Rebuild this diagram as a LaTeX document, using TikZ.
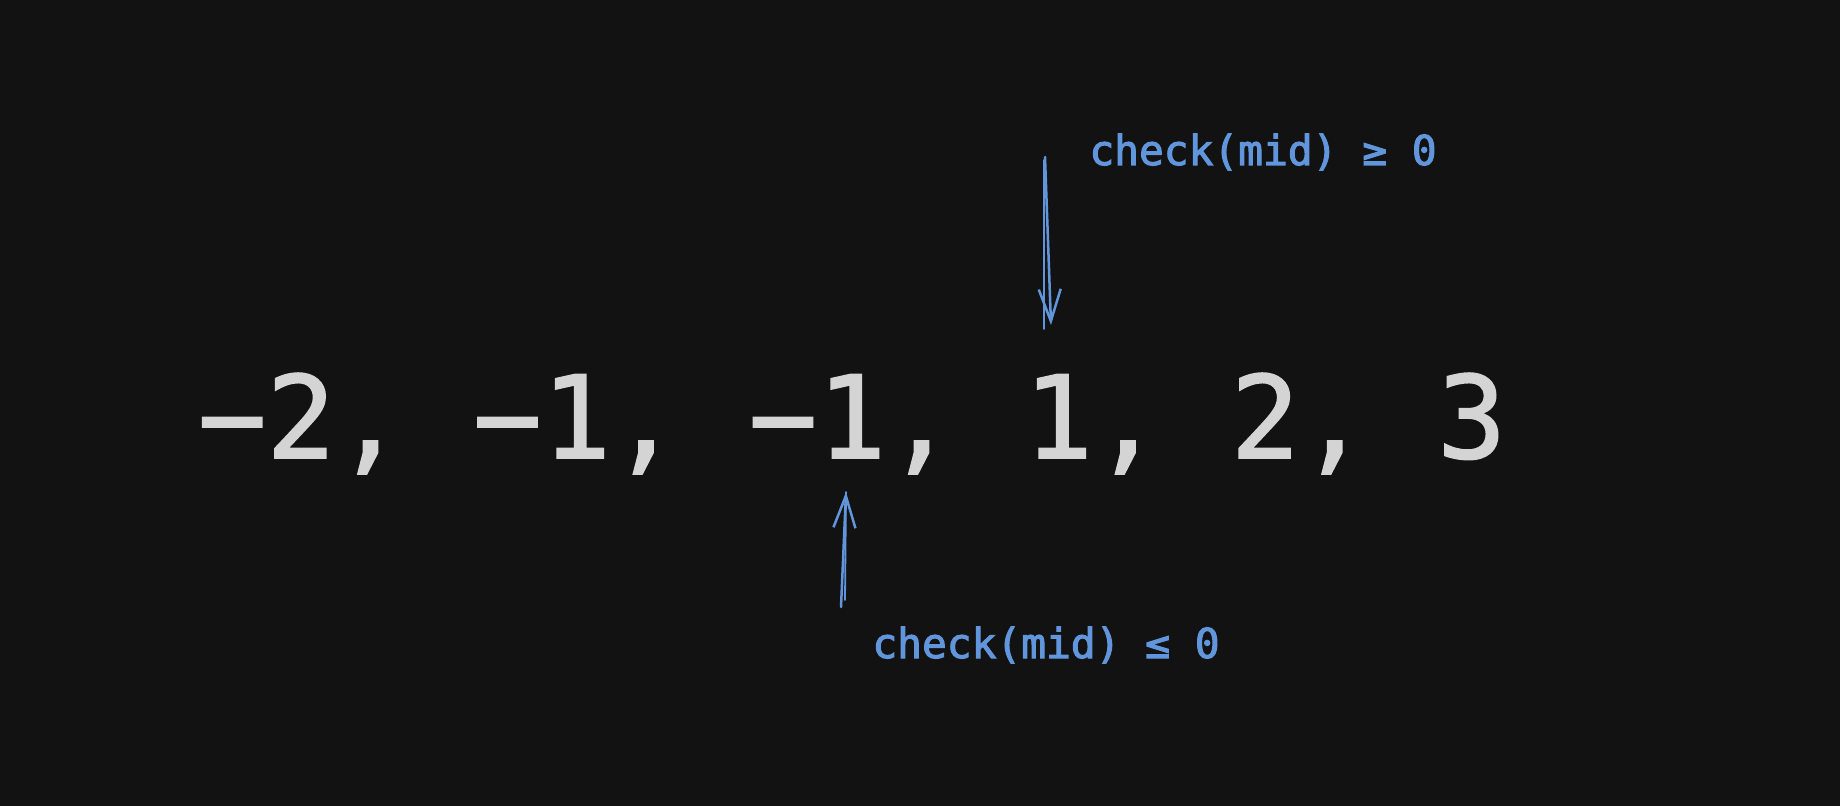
\documentclass[tikz,border=0pt]{standalone}
\usepackage{fontspec}
\newfontfamily\sketchmono[FakeBold=1.5]{DejaVu Sans Mono}
\newfontfamily\notemono[FakeBold=2.5]{DejaVu Sans Mono}
\usetikzlibrary{arrows.meta}
\definecolor{bgdark}{RGB}{18,18,18}
\definecolor{numgray}{RGB}{212,212,212}
\definecolor{markblue}{RGB}{98,150,220}
\tikzset{
  nums/.style={inner sep=0pt, anchor=base, text=numgray, font=\sketchmono\fontsize{57.2pt}{60pt}\selectfont},
  cond/.style={inner sep=0pt, anchor=base west, text=markblue, font=\notemono\fontsize{20.6pt}{22pt}\selectfont},
  pointer/.style={draw=markblue, line width=1.25pt, line cap=round, -{Straight Barb[length=16pt,width=11pt,line width=1.25pt]}},
  sketch/.style={draw=markblue, line width=0.9pt, line cap=round}
}

\begin{document}
\begin{tikzpicture}[x=0.5pt,y=-0.5pt]
	\fill[bgdark] (0,0) rectangle (1840,806);
	\useasboundingbox (0,0) rectangle (1840,806);
	
	\node[nums] (arr) at (852,458) {−2, −1, −1, 1, 2, 3};
	\node[cond] (ge) at (1089,165) {check(mid) ≥ 0};
	\node[cond] (le) at (872,658) {check(mid) ≤ 0};
	
	%pointer ends
	\coordinate (geTail) at (1045,157);
	\coordinate (geTip) at (1051,325);
	\coordinate (geSketch) at (1044,160);
	\coordinate (geSketchEnd) at (1044,329);
	\coordinate (leTail) at (841,607);
	\coordinate (leTip) at (846,492);
	\coordinate (leSketch) at (845,600);
	
	\draw[pointer] (geTail) -- (geTip);
	\draw[sketch] (geSketch) -- (geSketchEnd);
	\draw[pointer] (leTail) -- (leTip);
	\draw[sketch] (leSketch) -- (leTip);
\end{tikzpicture}
\end{document}
